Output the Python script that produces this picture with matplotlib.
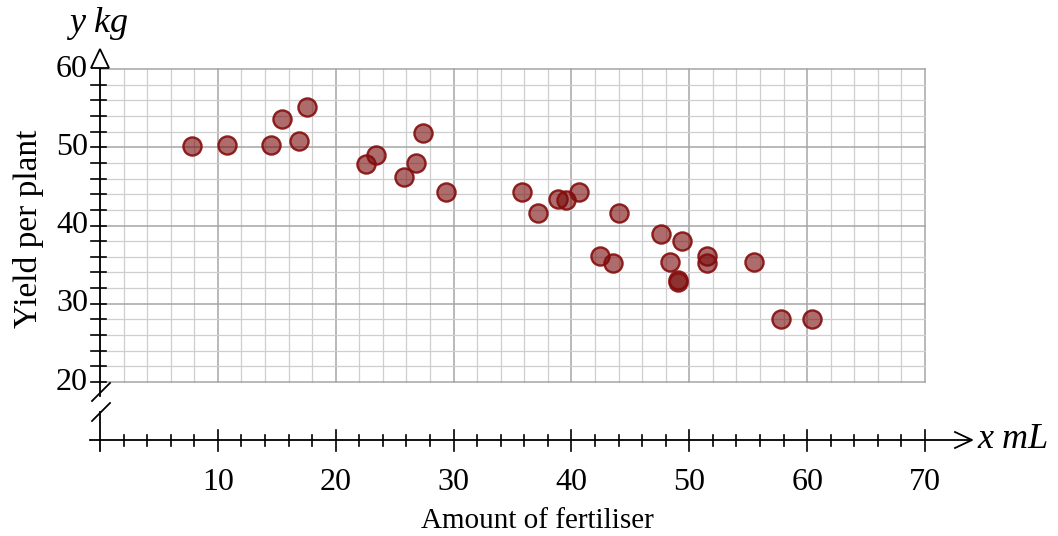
import numpy as np
import matplotlib.pyplot as plt
from matplotlib.patches import Polygon

plt.rcParams['font.family'] = ['Liberation Serif', 'DejaVu Serif']

# fertiliser (mL) and yield (kg)
fertiliser = [7.8, 10.8, 14.5, 15.4, 16.9, 17.6, 22.6, 23.4, 25.8, 26.8, 27.4, 29.4,
              35.8, 37.2, 38.9, 39.5, 40.6, 42.4, 43.5, 44.0, 47.6, 48.4, 49.0, 49.0,
              49.4, 51.5, 51.5, 55.5, 57.8, 60.4]
yield_kg = [50.2, 50.3, 50.3, 53.6, 50.8, 55.1, 47.9, 49.0, 46.2, 48.0, 51.8, 44.3,
            44.3, 41.6, 43.4, 43.2, 44.3, 36.1, 35.2, 41.6, 38.9, 35.3, 33.0, 32.8,
            38.0, 36.1, 35.2, 35.3, 28.0, 28.0]
x_ticks = [10, 20, 30, 40, 50, 60, 70]
y_ticks = [20, 30, 40, 50, 60]

W, H = 1058, 536
fig = plt.figure(figsize=(W / 100, H / 100), dpi=100)

# pixel geometry of the plotting area: x 0..70 -> 100..925 px, y 20..60 -> 382..69 px
xpx = (925 - 100) / 70
ypx = (382 - 69) / 40
ybot = 20 - (460 - 382) / ypx
ax = fig.add_axes([100 / W, (H - 460) / H, 825 / W, (460 - 69) / H])
ax.set_xlim(0, 70)
ax.set_ylim(ybot, 60)
ax.axis('off')


def dx(p):
    return p / xpx


def dy(p):
    return p / ypx


# grid
for gx in np.arange(0, 71, 2):
    major = gx % 10 == 0
    ax.plot([gx, gx], [20, 60], color='#a5a5a5' if major else '#cfcfcf',
            lw=1.1 if major else 0.9, zorder=1, clip_on=False)
for gy in np.arange(20, 61, 2):
    major = gy % 10 == 0
    ax.plot([0, 70], [gy, gy], color='#a5a5a5' if major else '#cfcfcf',
            lw=1.1 if major else 0.9, zorder=1, clip_on=False)

k = 'black'
# y axis with break
x_axis_y = 20 - dy(58)
ax.plot([0, 0], [20, 60], color=k, lw=1.3, zorder=3, clip_on=False)
ax.plot([0, 0], [20, 20 - dy(14)], color=k, lw=1.3, zorder=3, clip_on=False)
ax.plot([0, 0], [20 - dy(30), x_axis_y - dy(11)], color=k, lw=1.3, zorder=3, clip_on=False)
for off in (0, 20):
    ax.plot([-dx(8), dx(10)], [20 - dy(19 + off), 20 - dy(1 + off)], color=k, lw=1.3,
            zorder=3, clip_on=False)
tri = Polygon([[-dx(9), 60 + dy(1)], [dx(9), 60 + dy(1)], [0, 60 + dy(20)]],
              closed=True, facecolor='white', edgecolor=k, lw=1.3, zorder=4, clip_on=False)
ax.add_patch(tri)
for ty in np.arange(20, 60, 2):
    ax.plot([-dx(9), dx(6)], [ty, ty], color=k, lw=1.2, zorder=3, clip_on=False)
for ty in y_ticks:
    ax.text(-dx(12), ty, str(ty), ha='right', va='center', fontsize=23)

# x axis
ax.plot([-dx(10), 70 + dx(46)], [x_axis_y, x_axis_y], color=k, lw=1.3, zorder=3, clip_on=False)
ax.plot([70 + dx(30), 70 + dx(47), 70 + dx(30)],
        [x_axis_y + dy(8), x_axis_y, x_axis_y - dy(8)], color=k, lw=1.3, zorder=3,
        clip_on=False)
for tx in np.arange(2, 71, 2):
    if tx % 10 == 0:
        ax.plot([tx, tx], [x_axis_y + dy(10), x_axis_y - dy(11)], color=k, lw=1.2,
                zorder=3, clip_on=False)
    else:
        ax.plot([tx, tx], [x_axis_y + dy(5), x_axis_y - dy(6)], color=k, lw=1.2,
                zorder=3, clip_on=False)
for tx in x_ticks:
    ax.text(tx, x_axis_y - dy(42), str(tx), ha='center', va='center', fontsize=23)

ax.text(70 + dx(52), x_axis_y, 'x mL', ha='left', va='center', fontsize=26, style='italic')
ax.text(-dx(1), 60 + dy(46), 'y kg', ha='center', va='center', fontsize=26, style='italic')
ax.text(35 + dx(25), x_axis_y - dy(81), 'Amount of fertiliser', ha='center', va='center',
        fontsize=21)
ax.text(-dx(72), 40 - dy(3), 'Yield per plant', ha='center', va='center', fontsize=24,
        rotation=90)

# data points
ax.scatter(fertiliser, yield_kg, s=170, facecolor=(0.47, 0.04, 0.04, 0.6),
           edgecolor=(0.52, 0.05, 0.05, 0.9), linewidth=1.7, zorder=5, clip_on=False)

fig.savefig('out.png', dpi=100)
